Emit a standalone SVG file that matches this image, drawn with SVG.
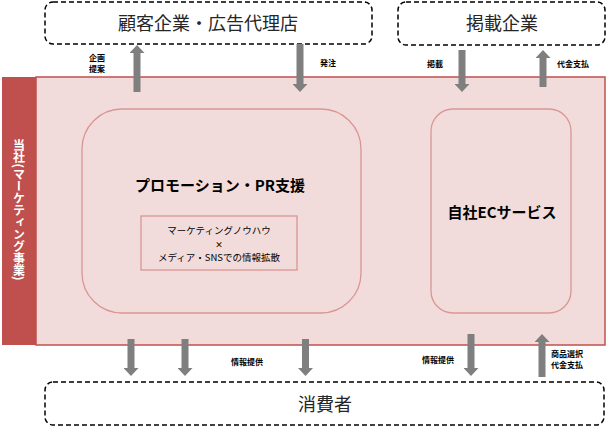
<svg xmlns="http://www.w3.org/2000/svg" width="609" height="427" viewBox="0 0 609 427">
<defs>
<marker id="ah" viewBox="0 -7.5 8 15" refX="0" refY="0" markerWidth="8" markerHeight="15" markerUnits="userSpaceOnUse" orient="auto">
<path d="M0,-7.5 L8,0 L0,7.5 z" fill="#7F7F7F"/>
</marker>
</defs>
<style>
text{font-family:"Noto Sans CJK JP","Noto Sans",sans-serif}
.ext{fill:#fff;stroke:#000;stroke-width:1.5;stroke-dasharray:5 3}
.extt{font-size:18px;fill:#262626;text-anchor:middle}
.inner{fill:none;stroke:#D99694;stroke-width:1.3}
.arrow{stroke:#7F7F7F;stroke-width:7;marker-end:url(#ah)}
.lbl{font-size:8px;font-weight:bold;fill:#000;text-anchor:middle}
.bold{font-size:15px;font-weight:bold;fill:#000;text-anchor:middle}
.sm{font-size:9.5px;fill:#000;text-anchor:middle}
</style>
<rect width="609" height="427" fill="#fff"/>
<g id="company">
<rect x="36" y="77" width="569" height="268" fill="#F2DCDB" stroke="#C0504D" stroke-width="1.5"/>
<rect x="2" y="77" width="34" height="268" fill="#C0504D"/>
<text x="19" y="210" style="writing-mode:vertical-rl;font-size:12px;font-weight:bold;fill:#fff;text-anchor:middle">当社(マーケティング事業)</text>
</g>
<g id="client">
<rect class="ext" x="45" y="2" width="327" height="42" rx="8"/>
<text class="extt" x="208" y="30">顧客企業・広告代理店</text>
</g>
<g id="publisher">
<rect class="ext" x="398" y="2" width="207" height="43" rx="8"/>
<text class="extt" x="502" y="30">掲載企業</text>
</g>
<g id="consumer">
<rect class="ext" x="45" y="382" width="559" height="43" rx="8"/>
<text class="extt" x="325" y="411">消費者</text>
</g>
<g id="promotion">
<rect class="inner" x="82" y="109" width="279" height="204" rx="40"/>
<text class="bold" x="220" y="191">プロモーション・PR支援</text>
</g>
<g id="knowhow">
<rect class="inner" x="141" y="216" width="156" height="54" fill="none"/>
<text class="sm" x="219" y="234">マーケティングノウハウ</text>
<text class="sm" x="219" y="247.5" style="font-size:8px;font-weight:bold">×</text>
<text class="sm" x="219" y="261">メディア・SNSでの情報拡散</text>
</g>
<g id="ec">
<rect class="inner" x="431" y="109" width="140" height="204" rx="22"/>
<text class="bold" x="502" y="218">自社ECサービス</text>
</g>
<g id="connectors">
<line class="arrow" x1="137" y1="92" x2="137" y2="53"/>
<line class="arrow" x1="300" y1="44" x2="300" y2="84"/>
<line class="arrow" x1="462" y1="50" x2="462" y2="84"/>
<line class="arrow" x1="543" y1="87" x2="543" y2="58"/>
<line class="arrow" x1="131" y1="339" x2="131" y2="368"/>
<line class="arrow" x1="185" y1="339" x2="185" y2="368"/>
<line class="arrow" x1="305.5" y1="339" x2="305.5" y2="368"/>
<line class="arrow" x1="471" y1="334" x2="471" y2="368"/>
<line class="arrow" x1="542" y1="377" x2="542" y2="342"/>
<text class="lbl" x="97" y="61">企画</text>
<text class="lbl" x="97" y="72">提案</text>
<text class="lbl" x="328" y="66">発注</text>
<text class="lbl" x="435" y="67">掲載</text>
<text class="lbl" x="573" y="67">代金支払</text>
<text class="lbl" x="247" y="365">情報提供</text>
<text class="lbl" x="438" y="363">情報提供</text>
<text class="lbl" x="567" y="357">商品選択</text>
<text class="lbl" x="567" y="368">代金支払</text>
</g>
</svg>
